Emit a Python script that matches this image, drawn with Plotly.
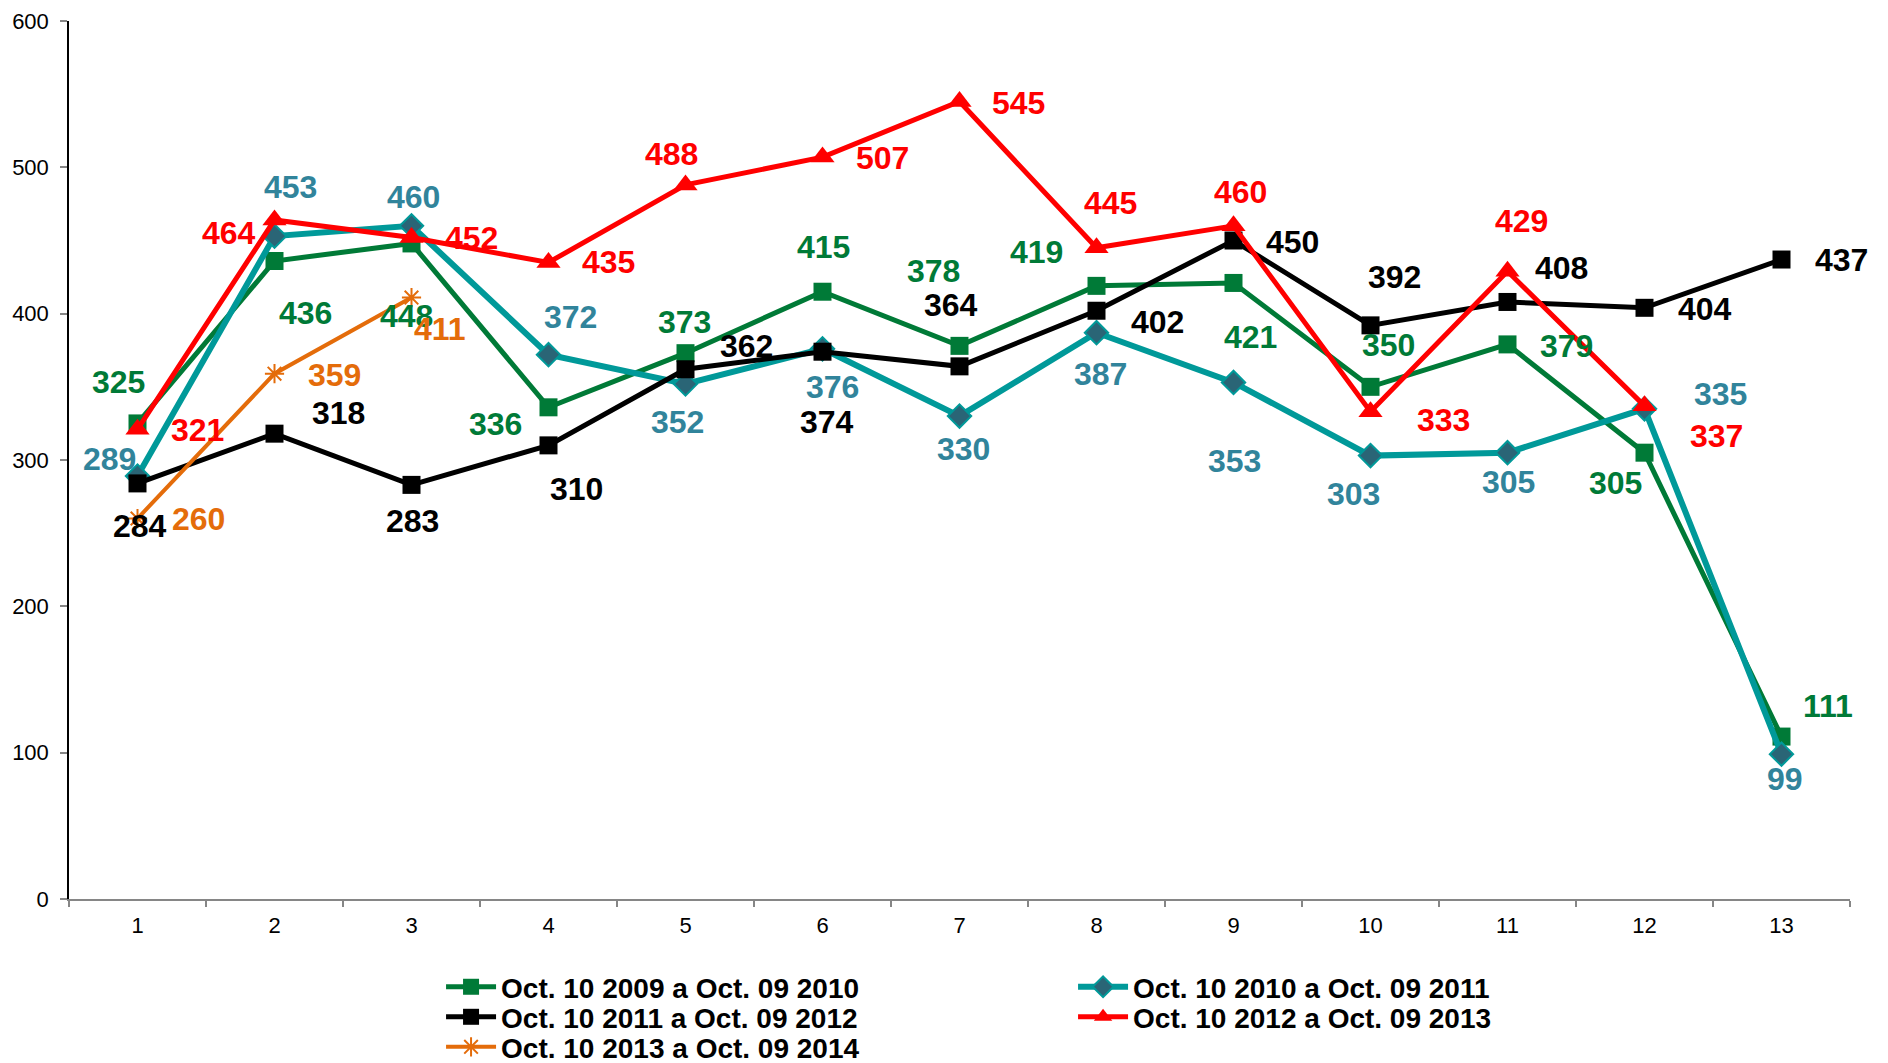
import plotly.graph_objects as go

categories = [str(i) for i in range(1, 14)]

names = [
    "Oct. 10 2009 a Oct. 09 2010",
    "Oct. 10 2010 a Oct. 09 2011",
    "Oct. 10 2011 a Oct. 09 2012",
    "Oct. 10 2012 a Oct. 09 2013",
    "Oct. 10 2013 a Oct. 09 2014",
]

s2009 = [325, 436, 448, 336, 373, 415, 378, 419, 421, 350, 379, 305, 111]
s2010 = [289, 453, 460, 372, 352, 376, 330, 387, 353, 303, 305, 335, 99]
s2011 = [284, 318, 283, 310, 362, 374, 364, 402, 450, 392, 408, 404, 437]
s2012 = [321, 464, 452, 435, 488, 507, 545, 445, 460, 333, 429, 337]
s2013 = [260, 359, 411]

y_ticks = [0, 100, 200, 300, 400, 500, 600]

# label offsets (px in reduced reference, right/down positive)
off2009 = [(-16, -34), (26, 43), (-4, 60), (-44, 14), (-1, -26), (1, -37), (-22, -62),
           (-50, -28), (14, 45), (15, -35), (49, 1), (-24, 25), (39, -25)]
off2010 = [(-23, -14), (13, -41), (2, -24), (18, -31), (-7, 32), (8, 32), (3, 27),
           (3, 34), (1, 65), (-14, 32), (1, 24), (63, -12), (3, 21)]
off2011 = [(2, 35), (53, -17), (1, 30), (23, 36), (51, -19), (4, 58), (-7, -51),
           (51, 9), (49, 1), (20, -40), (45, -28), (50, 1), (50, 0)]
off2012 = [(50, 1), (-38, 11), (50, 0), (50, 0), (-12, -26), (50, 1), (49, 1),
           (12, -37), (6, -28), (61, 7), (12, -42), (60, 25)]
off2013 = [(51, 0), (50, 1), (24, 26)]

SCALE = 1888 / 1568

series = [
    dict(y=s2009, name=names[0], line="#007A37", lw=5, marker=dict(symbol="square", size=18, color="#007A37"),
         lab="#007A37", off=off2009, legend="legend"),
    dict(y=s2010, name=names[1], line="#009999", lw=6,
         marker=dict(symbol="diamond", size=18, color="#2A6576", line=dict(color="#009999", width=2)),
         lab="#31849B", off=off2010, legend="legend"),
    dict(y=s2011, name=names[2], line="#000000", lw=5, marker=dict(symbol="square", size=18, color="#000000"),
         lab="#000000", off=off2011, legend="legend2"),
    dict(y=s2012, name=names[3], line="#FF0000", lw=5, marker=dict(symbol="triangle-up", size=21, color="#FF0000"),
         lab="#FF0000", off=off2012, legend="legend2"),
    dict(y=s2013, name=names[4], line="#E46C0A", lw=4,
         marker=dict(symbol="asterisk-open", size=16, color="#E46C0A", line=dict(color="#E46C0A", width=2)),
         lab="#E46C0A", off=off2013, legend="legend3"),
]

fig = go.Figure()
annotations = []
for s in series:
    xs = categories[: len(s["y"])]
    fig.add_trace(go.Scatter(
        x=xs, y=s["y"], name=s["name"], mode="lines+markers", legend=s["legend"],
        line=dict(color=s["line"], width=s["lw"]), marker=s["marker"],
    ))
    for i, (xv, yv) in enumerate(zip(xs, s["y"])):
        dx, dy = s["off"][i]
        annotations.append(dict(
            x=i, y=yv, xref="x", yref="y", text=f"<b>{yv}</b>", showarrow=False,
            xshift=dx * SCALE, yshift=-dy * SCALE,
            font=dict(family="Liberation Sans, Arial", size=32, color=s["lab"]),
        ))

legend_font = dict(family="Liberation Sans, Arial", size=28, color="black", weight="bold")
legend_common = dict(
    orientation="h", x=0.2089, xanchor="left", yanchor="middle",
    entrywidth=567, entrywidthmode="pixels", itemwidth=50,
    font=legend_font, traceorder="normal", bgcolor="rgba(0,0,0,0)",
)

fig.update_layout(
    template="none",
    width=1880, height=1055,
    margin=dict(l=61, r=38, t=13, b=164, autoexpand=False),
    paper_bgcolor="white", plot_bgcolor="white",
    font=dict(family="Liberation Sans, Arial", color="black"),
    annotations=annotations,
    showlegend=True,
    legend=dict(y=-0.1003, **legend_common),
    legend2=dict(y=-0.1345, **legend_common),
    legend3=dict(y=-0.1687, **legend_common),
)
fig.update_xaxes(
    type="category", range=[-0.5, 12.5], showgrid=False, zeroline=False, automargin=False,
    showline=True, linecolor="#868686", linewidth=2,
    ticks="outside", tickson="boundaries", ticklen=6, tickcolor="#868686", tickwidth=2,
    tickfont=dict(family="Liberation Sans, Arial", size=22, color="black"),
    ticklabeloverflow="allow", ticklabelstandoff=6,
)
fig.update_yaxes(
    range=[0, 600], tickvals=y_ticks, showgrid=False, zeroline=False, automargin=False,
    showline=True, linecolor="black", linewidth=1.5,
    ticks="outside", ticklen=7, tickcolor="#868686", tickwidth=2,
    tickfont=dict(family="Liberation Sans, Arial", size=22, color="black"),
    ticklabeloverflow="allow", ticklabelstandoff=7,
)

fig.write_html("out.html")
